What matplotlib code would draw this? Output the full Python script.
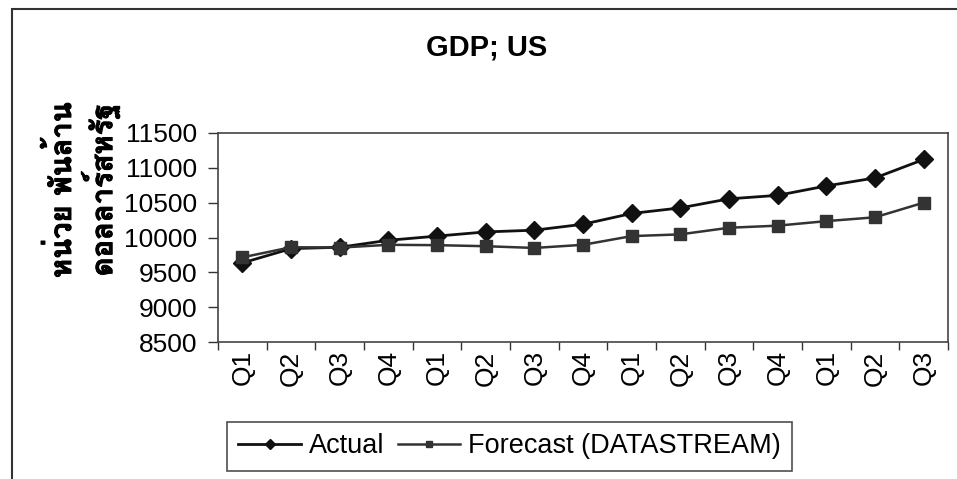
import matplotlib
matplotlib.use("Agg")
import matplotlib.pyplot as plt
import matplotlib.patheffects as pe
from matplotlib import font_manager
from matplotlib.patches import Rectangle
from fontTools.ttLib import TTFont

quarters = ["Q1", "Q2", "Q3", "Q4", "Q1", "Q2", "Q3", "Q4",
            "Q1", "Q2", "Q3", "Q4", "Q1", "Q2", "Q3"]
actual = [9635, 9840, 9860, 9960, 10020, 10080, 10105, 10190,
          10345, 10425, 10555, 10605, 10740, 10855, 11120]
forecast = [9715, 9860, 9855, 9895, 9890, 9875, 9850, 9895,
            10020, 10045, 10140, 10170, 10235, 10290, 10500]
yticks = [8500, 9000, 9500, 10000, 10500, 11000, 11500]

plt.rcParams["font.family"] = ["Liberation Sans", "DejaVu Sans"]


# pick any installed font that carries Thai glyphs for the axis title
def thai_font():
    for f in font_manager.fontManager.ttflist:
        try:
            cmap = TTFont(f.fname, fontNumber=0, lazy=True).getBestCmap()
        except Exception:
            continue
        if cmap and 0x0E01 in cmap and 0x0E2B in cmap:
            return f.name
    return "DejaVu Sans"


thai = thai_font()

fig = plt.figure(figsize=(9.57, 4.79), dpi=100)
ax = fig.add_axes([218 / 957, 1 - 342 / 479, 730 / 957, 209 / 479])

x = list(range(len(quarters)))
ax.plot(x, actual, color="#111111", lw=2, marker="D", ms=9.5,
        label="Actual")
ax.plot(x, forecast, color="#333333", lw=1.8, marker="s", ms=8.5,
        label="Forecast (DATASTREAM)")

ax.set_xlim(-0.5, len(quarters) - 0.5)
ax.set_ylim(8500, 11500)
ax.set_yticks(yticks)
ax.set_xticks([i - 0.5 for i in range(len(quarters) + 1)])
ax.set_xticklabels([])
ax.set_xticks(x, minor=True)
ax.set_xticklabels(quarters, minor=True, rotation=90, fontsize=19)
ax.tick_params(axis="x", which="major", direction="out", length=6,
               width=1, color="#333333")
ax.tick_params(axis="x", which="minor", length=0, pad=6)
ax.tick_params(axis="y", direction="out", length=7, width=1,
               color="#333333", labelsize=19, pad=8)
for s in ax.spines.values():
    s.set_color("#444444")
    s.set_linewidth(1.2)

fig.text(487 / 957, 1 - 48 / 479, "GDP; US", ha="center", va="center",
         fontsize=21, fontweight="bold")
bold = [pe.withStroke(linewidth=0.7, foreground="black")]
fig.text(62 / 957, 1 - 190 / 479, "หน่วย พันล้าน", rotation=90,
         ha="center", va="center", fontsize=21, fontweight="bold",
         family=[thai, "DejaVu Sans"], path_effects=bold)
fig.text(100 / 957, 1 - 190 / 479, "ดอลลาร์สหรัฐ", rotation=90,
         ha="center", va="center", fontsize=21, fontweight="bold",
         family=[thai, "DejaVu Sans"], path_effects=bold)

leg = fig.legend(loc="upper left", bbox_to_anchor=(227 / 957, 1 - 422 / 479),
                 ncol=2, fontsize=19.5, frameon=True, fancybox=False,
                 edgecolor="#222222", handlelength=2.3, handletextpad=0.3,
                 columnspacing=0.5, borderpad=0.42, borderaxespad=0,
                 markerscale=0.55)
leg.get_frame().set_linewidth(1.2)

# outer chart frame (left and top edges are inside the image)
fig.patches.append(Rectangle((12 / 957, -0.1), 1.2, 1.1 - 9 / 479,
                             transform=fig.transFigure, fill=False,
                             edgecolor="#333333", lw=1.5))

fig.savefig("out.png", dpi=100)
